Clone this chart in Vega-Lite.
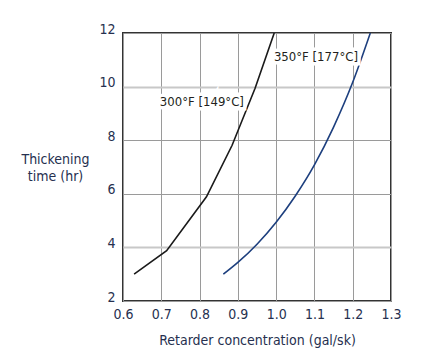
{
  "$schema": "https://vega.github.io/schema/vega-lite/v6.json",
  "width": 268,
  "height": 268,
  "autosize": "none",
  "padding": {"left": 123, "top": 33, "right": 32, "bottom": 57},
  "background": "white",
  "config": {
    "font": "DejaVu Sans Condensed, sans-serif",
    "view": {"stroke": "#333333", "strokeWidth": 2},
    "axis": {
      "labelFont": "DejaVu Sans Condensed, sans-serif",
      "titleFont": "DejaVu Sans Condensed, sans-serif",
      "labelColor": "#26304f",
      "titleColor": "#26304f",
      "labelFontSize": 14,
      "titleFontSize": 14,
      "titleFontWeight": "normal",
      "domain": false,
      "ticks": false
    }
  },
  "datasets": {
    "curves": [
      {"series": "300F", "x": 0.629, "y": 3.0},
      {"series": "300F", "x": 0.714, "y": 3.88},
      {"series": "300F", "x": 0.818, "y": 5.89},
      {"series": "300F", "x": 0.885, "y": 7.81},
      {"series": "300F", "x": 0.945, "y": 9.94},
      {"series": "300F", "x": 0.995, "y": 12.0},
      {"series": "350F", "x": 0.862, "y": 3.0},
      {"series": "350F", "x": 0.9, "y": 3.44},
      {"series": "350F", "x": 0.95, "y": 4.12},
      {"series": "350F", "x": 1.0, "y": 4.94},
      {"series": "350F", "x": 1.05, "y": 5.92},
      {"series": "350F", "x": 1.1, "y": 7.08},
      {"series": "350F", "x": 1.15, "y": 8.49},
      {"series": "350F", "x": 1.2, "y": 10.16},
      {"series": "350F", "x": 1.246, "y": 12.0}
    ],
    "labels": [
      {"label": "300°F [149°C]", "x": 0.806, "y": 9.42},
      {"label": "350°F [177°C]", "x": 1.104, "y": 11.1}
    ]
  },
  "encoding": {
    "x": {
      "field": "x",
      "type": "quantitative",
      "scale": {"domain": [0.6, 1.3], "nice": false, "zero": false},
      "axis": {
        "values": [0.6, 0.7, 0.8, 0.9, 1.0, 1.1, 1.2, 1.3],
        "format": ".1f",
        "title": "Retarder concentration (gal/sk)",
        "labelPadding": 6,
        "titlePadding": 12,
        "gridColor": "#9a9a9a",
        "gridWidth": 1,
        "labelFlush": false
      }
    },
    "y": {
      "field": "y",
      "type": "quantitative",
      "scale": {"domain": [2, 12], "nice": false, "zero": false},
      "axis": {
        "values": [2, 4, 6, 8, 10, 12],
        "title": ["Thickening", "time (hr)"],
        "titleAngle": 0,
        "titleAlign": "center",
        "titleBaseline": "middle",
        "titleX": -68,
        "titleY": 126,
        "titleLineHeight": 17,
        "labelPadding": 8,
        "labelBaseline": "alphabetic",
        "labelFlush": false,
        "gridColor": {"condition": {"test": "datum.value == 4 || datum.value == 10", "value": "#c8c8c8"}, "value": "#9a9a9a"},
        "gridWidth": {"condition": {"test": "datum.value == 4 || datum.value == 10", "value": 2}, "value": 1}
      }
    }
  },
  "layer": [
    {
      "data": {"name": "curves"},
      "transform": [{"filter": "datum.series == '300F'"}],
      "mark": {"type": "line", "color": "#1a1a1a", "strokeWidth": 1.6, "clip": true},
      "encoding": {}
    },
    {
      "data": {"name": "curves"},
      "transform": [{"filter": "datum.series == '350F'"}],
      "mark": {"type": "line", "color": "#1d3f7e", "strokeWidth": 1.6, "interpolate": "monotone", "clip": true},
      "encoding": {}
    },
    {
      "data": {"name": "labels"},
      "mark": {"type": "text", "fontSize": 13, "stroke": "white", "strokeWidth": 7, "strokeJoin": "miter", "fill": "white", "font": "DejaVu Sans Condensed, sans-serif"},
      "encoding": {"text": {"field": "label"}}
    },
    {
      "data": {"name": "labels"},
      "mark": {"type": "text", "fontSize": 13, "color": "#231f20", "font": "DejaVu Sans Condensed, sans-serif"},
      "encoding": {"text": {"field": "label"}}
    }
  ]
}
